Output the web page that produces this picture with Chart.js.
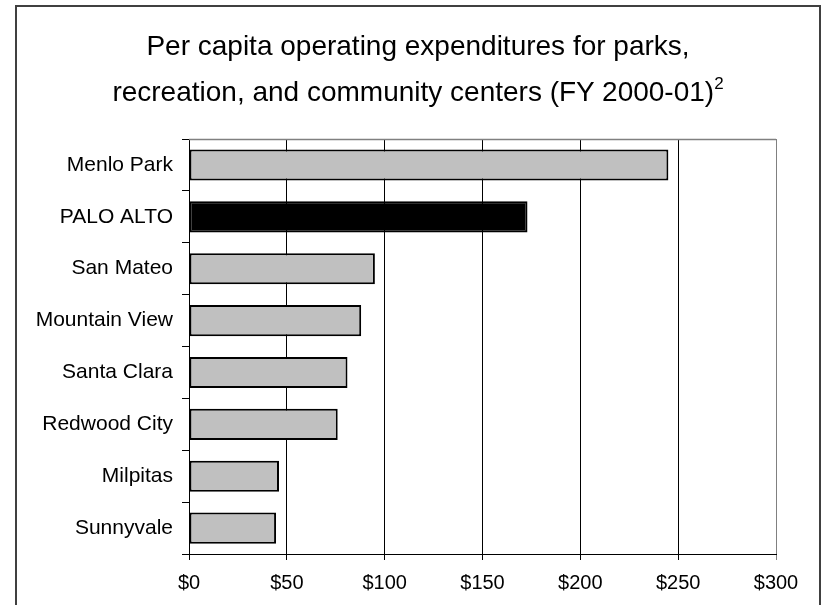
<!DOCTYPE html>
<html>
<head>
<meta charset="utf-8">
<title>Per capita operating expenditures</title>
<script src="https://cdn.jsdelivr.net/npm/chart.js@4/dist/chart.umd.min.js"></script>
<style>
    html, body {
        margin: 0;
        padding: 0;
        background: #fff;
    }
    #wrap {
        position: relative;
        width: 825px;
        height: 605px;
        overflow: hidden;
    }
    #frame {
        position: absolute;
        left: 15px;
        top: 5px;
        width: 802px;
        height: 700px;
        border: 2px solid #404040;
        pointer-events: none;
    }
    #title {
        position: absolute;
        left: 17px;
        width: 802px;
        top: 23px;
        text-align: center;
        font-family: "Liberation Sans", Arial, sans-serif;
        font-size: 28px;
        line-height: 46px;
        color: #000;
    }
    #title sup {
        font-size: 17px;
        line-height: 0;
        vertical-align: 12px;
    }
    canvas {
        position: absolute;
        left: 0;
        top: 0;
    }
</style>
</head>
<body>
<div id="wrap">
    <canvas id="expChart" width="825" height="605"></canvas>
    <div id="title">Per capita operating expenditures for parks,<br>recreation, and community centers (FY 2000-01)<sup>2</sup></div>
    <div id="frame"></div>
</div>
<script>
// 城市与人均运营支出（美元）
const cities = ['Menlo Park', 'PALO ALTO', 'San Mateo', 'Mountain View', 'Santa Clara', 'Redwood City', 'Milpitas', 'Sunnyvale'];
const perCapita = [245, 173, 95, 88, 81, 76, 46, 44.5];
const highlightCity = 'PALO ALTO';
const xTicks = [0, 50, 100, 150, 200, 250, 300];

const fontFamily = '"Liberation Sans", Arial, sans-serif';

// 绘图区上边框（灰色）
const topBorder = {
    id: 'topBorder',
    afterDraw(chart) {
        const area = chart.chartArea;
        const c = chart.ctx;
        c.save();
        c.strokeStyle = '#808080';
        c.lineWidth = 1.5;
        c.beginPath();
        c.moveTo(area.left, area.top + 0.5);
        c.lineTo(area.right, area.top + 0.5);
        c.stroke();
        c.restore();
    }
};

new Chart(document.getElementById('expChart').getContext('2d'), {
    type: 'bar',
    data: {
        labels: cities,
        datasets: [{
            data: perCapita,
            backgroundColor: cities.map(c => c === highlightCity ? '#000000' : '#c0c0c0'),
            borderColor: '#000000',
            borderWidth: 2,
            borderSkipped: false,
            barPercentage: 0.6,
            categoryPercentage: 1.0
        }]
    },
    options: {
        indexAxis: 'y',
        responsive: false,
        animation: false,
        layout: {
            padding: { left: 0, top: 139, right: 49, bottom: 0 }
        },
        plugins: {
            legend: { display: false },
            tooltip: { enabled: false }
        },
        scales: {
            x: {
                min: 0,
                max: 300,
                afterBuildTicks(scale) {
                    scale.ticks = xTicks.map(v => ({ value: v }));
                },
                afterFit(scale) {
                    scale.height = 51;
                },
                grid: {
                    color: ctx => (ctx.tick && ctx.tick.value === 300) ? '#808080' : '#000000',
                    lineWidth: 1,
                    tickLength: 6,
                    drawTicks: true
                },
                border: { color: '#000000', width: 1 },
                ticks: {
                    color: '#000',
                    padding: 11,
                    font: { family: fontFamily, size: 20 },
                    callback: value => '$' + value
                }
            },
            y: {
                afterFit(scale) {
                    scale.width = 189;
                },
                grid: {
                    offset: true,
                    drawOnChartArea: false,
                    drawTicks: true,
                    tickLength: 7,
                    color: '#000000'
                },
                border: { color: '#000000', width: 1 },
                ticks: {
                    color: '#000',
                    padding: 9,
                    font: { family: fontFamily, size: 21 }
                }
            }
        }
    },
    plugins: [topBorder]
});
</script>
</body>
</html>
